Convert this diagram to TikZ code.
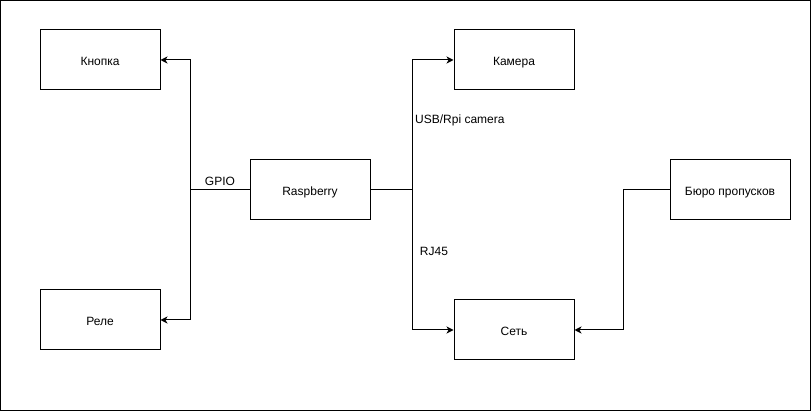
\documentclass[tikz,border=0pt]{standalone}
\usepackage{fontspec}
\setmainfont{Liberation Sans}
\usetikzlibrary{arrows.meta}
\begin{document}
\begin{tikzpicture}[x=1pt,y=-1pt,
  box/.style={draw,line width=1pt,minimum width=120pt,minimum height=60pt,inner sep=0pt,text height=11pt,text depth=0pt,font=\fontsize{12pt}{14pt}\selectfont},
  lbl/.style={inner sep=0pt,font=\fontsize{12pt}{14pt}\selectfont},
  conn/.style={line width=1pt},
  arr/.style={conn,-{Stealth[length=7pt,width=7pt,inset=2pt]}}]
\useasboundingbox (0,0) rectangle (811,411);
\draw[line width=1pt] (0.5,0.5) rectangle (810.5,410.5);
\node[box] (knopka) at (100,60) {Кнопка};
\node[box] (rele) at (100,320) {Реле};
\node[box] (rpi) at (310,190) {Raspberry};
\node[box] (cam) at (514,60) {Камера};
\node[box] (net) at (514,330) {Сеть};
\node[box] (buro) at (730,190) {Бюро пропусков};
\coordinate (jl) at (190,190);
\coordinate (jr) at (412,190);
\coordinate (jb) at (623,190);
\draw[conn] (rpi.west) -- (jl);
\draw[arr] (jl) |- (knopka.east);
\draw[arr] (jl) |- (rele.east);
\draw[conn] (rpi.east) -- (jr);
\draw[arr] (jr) |- (cam.west);
\draw[arr] (jr) |- (net.west);
\draw[arr] (buro.west) -- (jb) |- (net.east);
\node[lbl] (gpio) at (220,181) {GPIO};
\node[lbl,anchor=west] (usb) at (415,120) {USB/Rpi camera};
\node[lbl] (rj) at (434,251) {RJ45};
\end{tikzpicture}
\end{document}
